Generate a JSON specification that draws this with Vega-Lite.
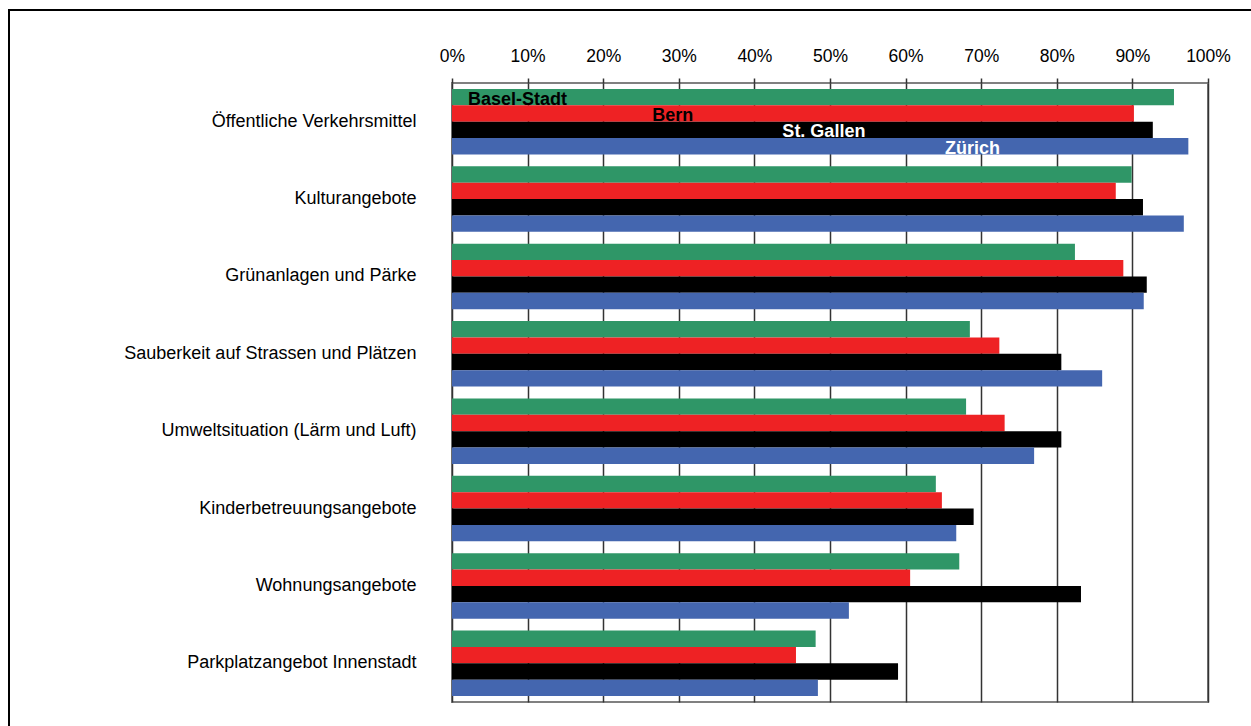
{
  "$schema": "https://vega.github.io/schema/vega-lite/v6.json",
  "width": 756,
  "height": 619,
  "autosize": {"type": "none"},
  "padding": {"left": 452, "top": 83, "right": 43, "bottom": 24},
  "background": "white",
  "config": {
    "font": "Liberation Sans",
    "view": {"stroke": "#808080", "strokeWidth": 2},
    "axis": {"labelFont": "Liberation Sans", "labelColor": "#000000"},
    "legend": {"strokeColor": "#000000", "strokeWidth": 2, "padding": 0}
  },
  "datasets": {
    "bars": [
      {"cat": "Öffentliche Verkehrsmittel", "city": "Basel-Stadt", "v": 0.955},
      {"cat": "Öffentliche Verkehrsmittel", "city": "Bern", "v": 0.902},
      {"cat": "Öffentliche Verkehrsmittel", "city": "St. Gallen", "v": 0.927},
      {"cat": "Öffentliche Verkehrsmittel", "city": "Zürich", "v": 0.974},
      {"cat": "Kulturangebote", "city": "Basel-Stadt", "v": 0.899},
      {"cat": "Kulturangebote", "city": "Bern", "v": 0.878},
      {"cat": "Kulturangebote", "city": "St. Gallen", "v": 0.914},
      {"cat": "Kulturangebote", "city": "Zürich", "v": 0.968},
      {"cat": "Grünanlagen und Pärke", "city": "Basel-Stadt", "v": 0.824},
      {"cat": "Grünanlagen und Pärke", "city": "Bern", "v": 0.888},
      {"cat": "Grünanlagen und Pärke", "city": "St. Gallen", "v": 0.919},
      {"cat": "Grünanlagen und Pärke", "city": "Zürich", "v": 0.915},
      {"cat": "Sauberkeit auf Strassen und Plätzen", "city": "Basel-Stadt", "v": 0.685},
      {"cat": "Sauberkeit auf Strassen und Plätzen", "city": "Bern", "v": 0.724},
      {"cat": "Sauberkeit auf Strassen und Plätzen", "city": "St. Gallen", "v": 0.806},
      {"cat": "Sauberkeit auf Strassen und Plätzen", "city": "Zürich", "v": 0.860},
      {"cat": "Umweltsituation (Lärm und Luft)", "city": "Basel-Stadt", "v": 0.680},
      {"cat": "Umweltsituation (Lärm und Luft)", "city": "Bern", "v": 0.731},
      {"cat": "Umweltsituation (Lärm und Luft)", "city": "St. Gallen", "v": 0.806},
      {"cat": "Umweltsituation (Lärm und Luft)", "city": "Zürich", "v": 0.770},
      {"cat": "Kinderbetreuungsangebote", "city": "Basel-Stadt", "v": 0.640},
      {"cat": "Kinderbetreuungsangebote", "city": "Bern", "v": 0.648},
      {"cat": "Kinderbetreuungsangebote", "city": "St. Gallen", "v": 0.690},
      {"cat": "Kinderbetreuungsangebote", "city": "Zürich", "v": 0.667},
      {"cat": "Wohnungsangebote", "city": "Basel-Stadt", "v": 0.671},
      {"cat": "Wohnungsangebote", "city": "Bern", "v": 0.606},
      {"cat": "Wohnungsangebote", "city": "St. Gallen", "v": 0.832},
      {"cat": "Wohnungsangebote", "city": "Zürich", "v": 0.525},
      {"cat": "Parkplatzangebot Innenstadt", "city": "Basel-Stadt", "v": 0.481},
      {"cat": "Parkplatzangebot Innenstadt", "city": "Bern", "v": 0.455},
      {"cat": "Parkplatzangebot Innenstadt", "city": "St. Gallen", "v": 0.590},
      {"cat": "Parkplatzangebot Innenstadt", "city": "Zürich", "v": 0.484}
    ],
    "labels": [
      {"cat": "Öffentliche Verkehrsmittel", "city": "Basel-Stadt", "pos": 0.021},
      {"cat": "Öffentliche Verkehrsmittel", "city": "Bern", "pos": 0.265},
      {"cat": "Öffentliche Verkehrsmittel", "city": "St. Gallen", "pos": 0.437},
      {"cat": "Öffentliche Verkehrsmittel", "city": "Zürich", "pos": 0.652}
    ]
  },
  "layer": [
    {
      "data": {"name": "bars"},
      "mark": {"type": "bar", "cornerRadius": 0},
      "encoding": {
        "y": {
          "field": "cat",
          "type": "nominal",
          "sort": null,
          "scale": {"paddingInner": 0, "paddingOuter": 0},
          "axis": {
            "title": null,
            "ticks": false,
            "domain": false,
            "labelPadding": 36,
            "labelFontSize": 18,
            "labelLimit": 400
          }
        },
        "yOffset": {
          "field": "city",
          "type": "nominal",
          "sort": ["Basel-Stadt", "Bern", "St. Gallen", "Zürich"],
          "scale": {"paddingInner": 0, "paddingOuter": 0.36}
        },
        "x": {
          "field": "v",
          "type": "quantitative",
          "scale": {"domain": [0, 1], "nice": false},
          "axis": {
            "orient": "top",
            "title": null,
            "format": ".0%",
            "values": [0, 0.1, 0.2, 0.3, 0.4, 0.5, 0.6, 0.7, 0.8, 0.9, 1],
            "domain": false,
            "grid": true,
            "gridColor": "#333333",
            "gridWidth": 1.5,
            "gridOpacity": 1,
            "ticks": true,
            "tickSize": 5,
            "tickColor": "#333333",
            "tickWidth": 1.5,
            "labelPadding": 13,
            "labelFontSize": 17.5,
            "labelFlush": false
          }
        },
        "color": {
          "field": "city",
          "type": "nominal",
          "scale": {
            "domain": ["Basel-Stadt", "Bern", "St. Gallen", "Zürich"],
            "range": ["#2F9667", "#EE2224", "#000000", "#4466AF"]
          },
          "legend": null
        }
      }
    },
    {
      "data": {"name": "labels"},
      "mark": {"type": "text", "align": "left", "baseline": "middle", "fontWeight": "bold", "fontSize": 18, "dy": 2.5},
      "encoding": {
        "y": {"field": "cat", "type": "nominal", "sort": null},
        "yOffset": {"field": "city", "type": "nominal", "sort": ["Basel-Stadt", "Bern", "St. Gallen", "Zürich"]},
        "x": {"field": "pos", "type": "quantitative"},
        "text": {"field": "city"},
        "color": {
          "condition": {"test": "datum.city === 'St. Gallen' || datum.city === 'Zürich'", "value": "#ffffff"},
          "value": "#000000"
        },
        "stroke": {
          "field": "pos",
          "type": "quantitative",
          "scale": {"range": ["rgba(0,0,0,0)", "rgba(0,0,0,0)"]},
          "legend": {
            "orient": "none",
            "legendX": -443,
            "legendY": -73,
            "direction": "vertical",
            "title": null,
            "gradientLength": 760,
            "gradientThickness": 1280,
            "gradientOpacity": 0,
            "gradientStrokeWidth": 0,
            "values": [],
            "labelExpr": "''",
            "labelOpacity": 0
          }
        }
      }
    }
  ]
}
